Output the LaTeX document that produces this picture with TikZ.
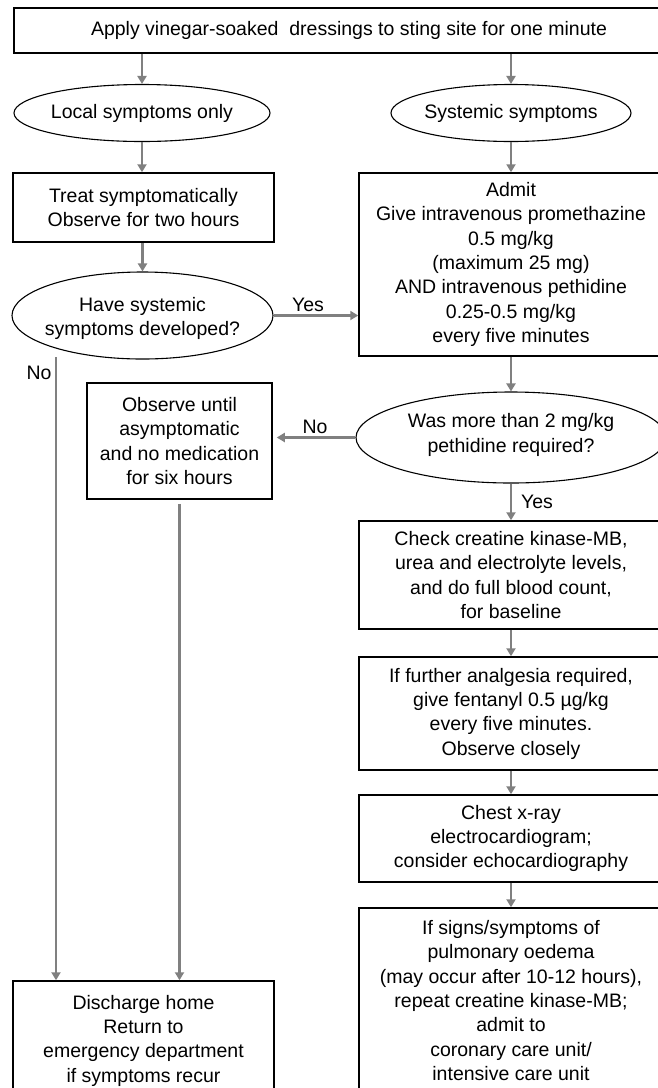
\documentclass[tikz,border=0pt]{standalone}
\usepackage{fontspec}
\setmainfont{Liberation Sans}
\usetikzlibrary{shapes.geometric,arrows.meta}
\definecolor{arrgray}{RGB}{128,128,128}
\begin{document}
\begin{tikzpicture}[x=1pt,y=-1pt,
  every node/.style={font=\fontsize{19.5}{24.3}\selectfont, inner sep=0pt, align=center},
  box/.style={draw=black, line width=1.5pt, rectangle},
  oval/.style={draw=black, line width=1.1pt, ellipse},
  arr/.style={draw=arrgray, line width=2.2pt, -{Triangle[width=9pt,length=8pt]}},
  lbl/.style={}]
\useasboundingbox (0,0) rectangle (658,1088);
\clip (0,0) rectangle (658,1088);
\fill[white] (0,0) rectangle (658,1088);

% nodes
\node[box, minimum width=670, minimum height=45] (top) at (349,30.5)
  {Apply vinegar-soaked \ dressings to sting site for one minute};

\node[oval, minimum width=256, minimum height=57] (local) at (142,113) {};
\node (localt) at (local.center) {Local symptoms only};

\node[oval, minimum width=240, minimum height=57] (sys) at (511,113) {};
\node (syst) at (sys.center) {Systemic symptoms};

\node[box, minimum width=261, minimum height=69] (treat) at (143.5,207.5)
  {Treat symptomatically\\Observe for two hours};

\node[oval, minimum width=261, minimum height=87] (have) at (142.5,315.5) {};
\node (havet) at ([yshift=-3]have.center) {Have systemic\\symptoms developed?};

\node[box, minimum width=304, minimum height=183] (admit) at (511,264.5)
  {Admit\\Give intravenous promethazine\\0.5 mg/kg\\(maximum 25 mg)\\AND intravenous pethidine\\0.25-0.5 mg/kg\\every five minutes};

\node[oval, minimum width=310, minimum height=91] (was) at (511,437.5) {};
\node (wast) at ([yshift=2.5]was.center) {Was more than 2 mg/kg\\pethidine required?};

\node[box, minimum width=185, minimum height=116] (obs) at (179.5,441)
  {Observe until\\asymptomatic\\and no medication\\for six hours};

\node[box, minimum width=304, minimum height=108] (check) at (511,575)
  {Check creatine kinase-MB,\\urea and electrolyte levels,\\and do full blood count,\\for baseline};

\node[box, minimum width=304, minimum height=113] (fent) at (511,713.5)
  {If further analgesia required,\\give fentanyl 0.5 µg/kg\\every five minutes.\\Observe closely};

\node[box, minimum width=304, minimum height=87] (chest) at (511,838.5)
  {Chest x-ray\\electrocardiogram;\\consider echocardiography};

\node[box, minimum width=304, minimum height=185] (pulm) at (511,1000.5)
  {If signs/symptoms of\\pulmonary oedema\\(may occur after 10-12 hours),\\repeat creatine kinase-MB;\\admit to\\coronary care unit/\\intensive care unit};

\node[box, minimum width=261, minimum height=119] (dis) at (143.5,1040.5)
  {Discharge home\\Return to\\emergency department\\if symptoms recur};

% labels
\node[lbl] (yes1) at (308,305) {Yes};
\node[lbl] (no1) at (39,373) {No};
\node[lbl] (no2) at (315,427) {No};
\node[lbl] (yes2) at (537,502) {Yes};

\coordinate (nostart) at (56,357);

% connectors
\draw[arr] (top.south -| local.north) -- (local.north);
\draw[arr] (top.south -| sys.north) -- (sys.north);
\draw[arr] (local.south) -- (local.south |- treat.north);
\draw[arr] (sys.south) -- (sys.south |- admit.north);
\draw[arr] (treat.south -| have.north) -- (have.north);
\draw[arr] (have.east) -- (have.east -| admit.west);
\draw[arr] (nostart) -- (nostart |- dis.north);
\draw[arr] (admit.south) -- (was.north);
\draw[arr, shorten >=4pt] (was.west) -- (was.west -| obs.east);
\draw[arr, shorten <=4pt] (obs.south) -- (obs.south |- dis.north);
\draw[arr] (was.south) -- (check.north);
\draw[arr] (check.south) -- (fent.north);
\draw[arr] (fent.south) -- (chest.north);
\draw[arr] (chest.south) -- (pulm.north);
\end{tikzpicture}
\end{document}
